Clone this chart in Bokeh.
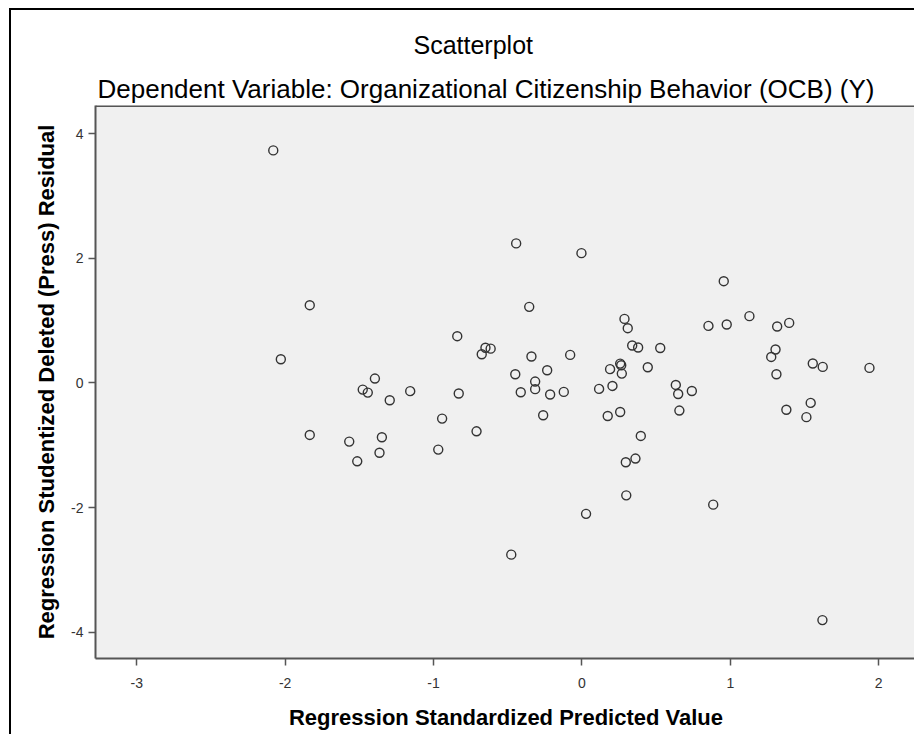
from bokeh.plotting import figure
from bokeh.models import Range1d, FixedTicker, Span, Title
from bokeh.embed import file_html
from bokeh.resources import INLINE

# Regression Standardized Predicted Value
pred_values = [
    -2.080, -1.834, -2.029, -0.840, -0.650, -0.615, -0.675, -1.395, -1.477, -1.443,
    -1.295, -1.157, -0.830, -0.942, -0.710, -1.834, -1.568, -1.348, -1.364, -1.514,
    -0.968, -0.443, -0.003, 0.956, -0.355, 0.287, 0.309, 0.853, 0.976, 0.339,
    0.379, 0.528, -0.340, -0.079, -0.449, -0.234, -0.315, -0.315, -0.412, -0.214,
    -0.122, 0.190, 0.258, 0.265, 0.269, 0.444, 0.116, 0.206, 0.633, 0.649,
    0.741, 0.657, -0.261, 0.174, 0.258, 1.129, 1.316, 1.397, 1.305, 1.276,
    1.311, 1.556, 1.623, 1.938, 1.542, 1.378, 1.513, 0.397, 0.296, 0.361,
    0.299, 0.028, -0.476, 0.885, 1.621,
]
# Regression Studentized Deleted (Press) Residual
resid_values = [
    3.730, 1.247, 0.380, 0.750, 0.564, 0.550, 0.460, 0.070, -0.107, -0.155,
    -0.277, -0.132, -0.170, -0.572, -0.776, -0.834, -0.941, -0.872, -1.120, -1.257,
    -1.069, 2.238, 2.082, 1.632, 1.220, 1.027, 0.878, 0.915, 0.937, 0.600,
    0.568, 0.560, 0.424, 0.450, 0.140, 0.204, 0.022, -0.100, -0.150, -0.186,
    -0.144, 0.221, 0.310, 0.284, 0.150, 0.252, -0.096, -0.048, -0.032, -0.177,
    -0.129, -0.443, -0.519, -0.530, -0.466, 1.071, 0.905, 0.963, 0.536, 0.417,
    0.140, 0.311, 0.257, 0.241, -0.320, -0.430, -0.549, -0.850, -1.272, -1.213,
    -1.803, -2.100, -2.754, -1.952, -3.804,
]

x_ticks = [-3, -2, -1, 0, 1, 2]
x_tick_labels = ["-3", "-2", "-1", "0", "1", "2"]
y_ticks = [-4, -2, 0, 2, 4]
y_tick_labels = ["-4", "-2", "0", "2", "4"]

title_text = "Scatterplot"
subtitle_text = "Dependent Variable: Organizational Citizenship Behavior (OCB) (Y)"
x_label = "Regression Standardized Predicted Value"
y_label = "Regression Studentized Deleted (Press) Residual"

FONT = "Liberation Sans"
AXIS_COLOR = "#555555"
Y_TOP = 4.45

p = figure(
    width=905, height=726,
    output_backend="svg", toolbar_location=None,
    title=title_text,
    x_range=Range1d(-3.278, 2.255), y_range=Range1d(-4.42, Y_TOP),
    min_border_left=84, min_border_right=0, min_border_top=95, min_border_bottom=78,
)
p.styles = {"margin-left": "9px", "margin-top": "8px",
            "border-left": "2px solid #000000", "border-top": "2px solid #000000"}
p.background_fill_color = "#F0F0F0"
p.border_fill_color = "white"
p.outline_line_color = None
p.grid.visible = False

# main title
p.title.text_font = FONT
p.title.text_font_size = "25px"
p.title.text_font_style = "normal"
p.title.text_color = "#000000"
p.title.align = "left"
p.title.offset = 318
p.title.standoff = 21

sub = Title(text=subtitle_text, text_font=FONT, text_font_size="26px",
            text_font_style="normal", text_color="#000000", align="left",
            offset=2, standoff=4)
p.add_layout(sub, "above")

# frame top line
p.add_layout(Span(location=Y_TOP, dimension="width", line_color=AXIS_COLOR, line_width=3))

p.scatter(pred_values, resid_values, marker="circle", size=9,
          fill_color=None, line_color="#333333", line_width=1.4)

bottom_axis = p.below[0]
left_axis = p.left[0]
for ax, ticks, labels in ((bottom_axis, x_ticks, x_tick_labels), (left_axis, y_ticks, y_tick_labels)):
    ax.ticker = FixedTicker(ticks=ticks)
    ax.major_label_overrides = {t: s for t, s in zip(ticks, labels)}
    ax.minor_tick_line_color = None
    ax.major_tick_in = 0
    ax.major_tick_out = 7
    ax.major_tick_line_color = AXIS_COLOR
    ax.major_tick_line_width = 1.5
    ax.axis_line_color = AXIS_COLOR
    ax.axis_line_width = 2
    ax.major_label_text_font = FONT
    ax.major_label_text_font_size = "14px"
    ax.major_label_text_color = "#333333"
    ax.axis_label_text_font = FONT
    ax.axis_label_text_font_size = "22px"
    ax.axis_label_text_font_style = "bold"
    ax.axis_label_text_color = "#000000"

bottom_axis.axis_label = x_label
bottom_axis.major_label_standoff = 12
bottom_axis.axis_label_standoff = 14
left_axis.axis_label = y_label
left_axis.major_label_standoff = 5
left_axis.axis_label_standoff = 9
left_axis.major_label_orientation = "horizontal"

open("out.html", "w").write(file_html(p, INLINE))
